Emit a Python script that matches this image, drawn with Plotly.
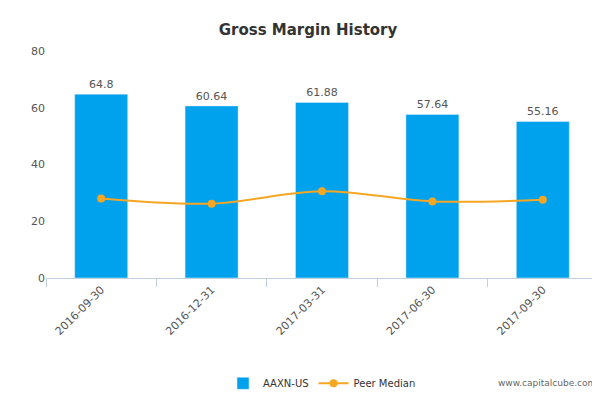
import plotly.graph_objects as go

dates = ["2016-09-30", "2016-12-31", "2017-03-31", "2017-06-30", "2017-09-30"]
company = [64.8, 60.64, 61.88, 57.64, 55.16]
peer_median = [28.0, 26.2, 30.6, 27.0, 27.6]

fig = go.Figure()
fig.add_trace(go.Bar(
    x=dates, y=company, name="AAXN-US", marker_color="#00a2ed", width=0.48,
    text=[f"{v:g}" for v in company], textposition="outside",
    textfont=dict(size=11, color="#555555"), cliponaxis=False))
fig.add_trace(go.Scatter(
    x=dates, y=peer_median, name="Peer Median", mode="lines+markers",
    line=dict(color="#f5a623", width=2, shape="spline"),
    marker=dict(size=8, color="#f5a623")))

fig.update_layout(
    width=600, height=400,
    title=dict(text="<b>Gross Margin History</b>", x=0.5, y=0.96,
               font=dict(size=15, color="#333333")),
    font=dict(family="DejaVu Sans", size=11, color="#555555"),
    paper_bgcolor="white", plot_bgcolor="white",
    margin=dict(l=38, r=10, t=43, b=113),
    showlegend=True,
    legend=dict(orientation="h", x=0.5, xanchor="center", y=-0.4, yanchor="top",
                font=dict(size=10, color="#333333")),
    bargap=0.5,
)
fig.update_yaxes(range=[0, 80], dtick=20, showgrid=False, zeroline=False,
                 tickfont=dict(size=11, color="#555555"))
fig.update_xaxes(type="category", tickangle=-45, showline=True, linecolor="#c0d0e0",
                 ticks="outside", tickcolor="#c0d0e0", ticklen=8,
                 tickson="boundaries", tickfont=dict(size=11, color="#555555"))
fig.add_annotation(text="www.capitalcube.com", xref="paper", yref="paper",
                   x=1.0, y=-0.43, xanchor="right", yanchor="top", showarrow=False,
                   font=dict(size=9, color="#666666"))

fig.write_html("out.html")
